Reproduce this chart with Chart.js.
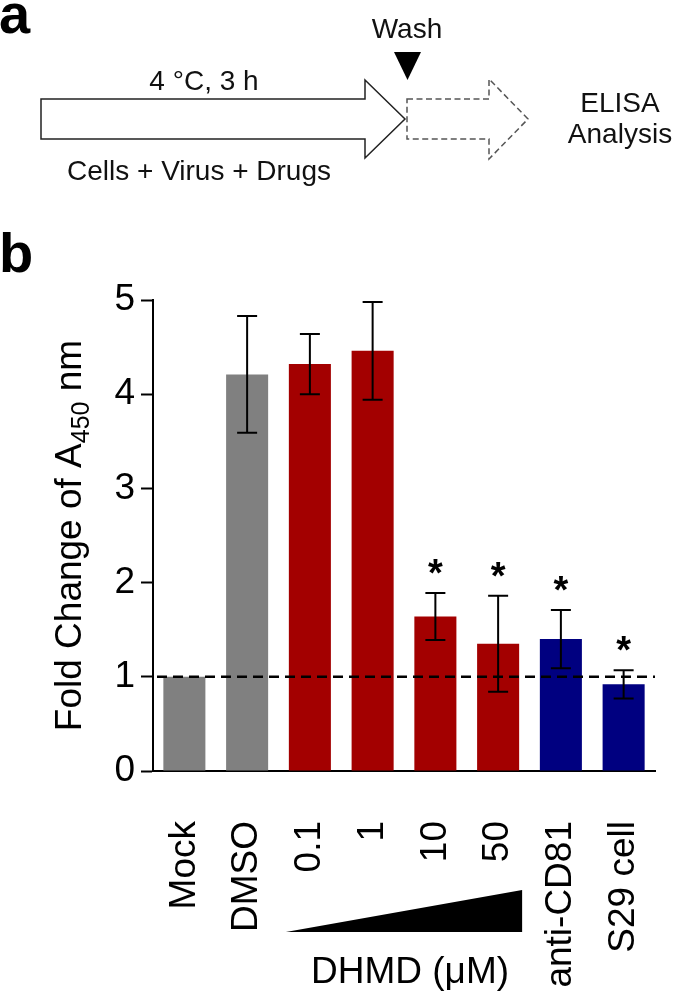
<!DOCTYPE html>
<html>
<head>
<meta charset="utf-8">
<script src="https://cdn.jsdelivr.net/npm/chart.js@4.4.1/dist/chart.umd.min.js"></script>
<style>
  html, body { margin: 0; padding: 0; background: #fff; }
</style>
</head>
<body>
<canvas id="fig" width="675" height="1004"></canvas>
<script>
// values
const categories = ['Mock', 'DMSO', '0.1', '1', '10', '50', 'anti-CD81', 'S29 cell'];
const foldChange = [1.00, 4.21, 4.32, 4.46, 1.64, 1.35, 1.40, 0.92];
const sdError = [0, 0.62, 0.32, 0.52, 0.25, 0.51, 0.31, 0.15];
const significant = [false, false, false, false, true, true, true, true];
const treatment = ['control', 'control', 'DHMD', 'DHMD', 'DHMD', 'DHMD', 'other', 'other'];
const yTicks = [0, 1, 2, 3, 4, 5];
const refLevel = 1;

const groupColor = { control: '#808080', DHMD: '#a30000', other: '#000080' };
const FONT = '"Liberation Sans", Arial, Helvetica, sans-serif';

// panel a: the schematic
const schematic = {
  id: 'schematic',
  afterDraw(chart) {
    const c = chart.ctx;
    c.save();
    c.fillStyle = '#000';
    c.font = 'bold 56px ' + FONT;
    c.textAlign = 'left';
    c.textBaseline = 'alphabetic';
    c.fillText('a', -1, 33);
    c.fillText('b', -1, 272);

    // solid arrow
    c.lineWidth = 1.5;
    c.strokeStyle = '#222';
    c.beginPath();
    c.moveTo(41, 99); c.lineTo(365, 99); c.lineTo(365, 80); c.lineTo(405, 119);
    c.lineTo(365, 158); c.lineTo(365, 139); c.lineTo(41, 139); c.closePath();
    c.stroke();

    // dashed arrow
    c.strokeStyle = '#555';
    c.setLineDash([6, 3.5]);
    c.beginPath();
    c.moveTo(407, 99); c.lineTo(489, 99); c.lineTo(489, 79); c.lineTo(528, 119);
    c.lineTo(489, 159); c.lineTo(489, 139); c.lineTo(407, 139); c.closePath();
    c.stroke();
    c.setLineDash([]);

    // wash marker
    c.fillStyle = '#000';
    c.beginPath();
    c.moveTo(394, 52); c.lineTo(421, 52); c.lineTo(407.5, 80); c.closePath();
    c.fill();

    c.font = '28px ' + FONT;
    c.textAlign = 'center';
    c.fillStyle = '#111';
    c.fillText('4 \u00B0C, 3 h', 204, 90);
    c.fillText('Cells + Virus + Drugs', 199, 180);
    c.fillText('Wash', 407, 38);
    c.fillText('ELISA', 620, 112);
    c.fillText('Analysis', 620, 143);
    c.restore();
  }
};

// error bars, significance stars and the reference line
const errorBars = {
  id: 'errorBars',
  afterDatasetsDraw(chart) {
    const c = chart.ctx;
    const x = chart.scales.x, y = chart.scales.y;
    c.save();
    // dashed line at fold change 1
    c.strokeStyle = '#000';
    c.lineWidth = 2.5;
    c.setLineDash([10, 6]);
    const yr = y.getPixelForValue(refLevel);
    c.beginPath();
    c.moveTo(x.left + 4, yr);
    c.lineTo(x.right, yr);
    c.stroke();
    c.setLineDash([]);

    c.lineWidth = 2;
    foldChange.forEach((v, i) => {
      const px = x.getPixelForValue(i);
      const e = sdError[i];
      if (e > 0) {
        const top = y.getPixelForValue(v + e);
        const bot = y.getPixelForValue(v - e);
        c.beginPath();
        c.moveTo(px, top); c.lineTo(px, bot);
        c.moveTo(px - 10, top); c.lineTo(px + 10, top);
        c.moveTo(px - 10, bot); c.lineTo(px + 10, bot);
        c.stroke();
      }
      if (significant[i]) {
        c.fillStyle = '#000';
        c.font = 'bold 38px ' + FONT;
        c.textAlign = 'center';
        c.textBaseline = 'alphabetic';
        c.fillText('*', px, y.getPixelForValue(v + e) - 7);
      }
    });
    c.restore();
  }
};

// y title with subscript, dose wedge and its caption
const axisDecor = {
  id: 'axisDecor',
  afterDraw(chart) {
    const c = chart.ctx;
    const x = chart.scales.x, y = chart.scales.y;
    c.save();
    c.fillStyle = '#000';

    // y axis title
    const big = '37px ' + FONT, small = '25px ' + FONT;
    const p1 = 'Fold Change of A', p2 = '450', p3 = ' nm';
    c.font = big; const w1 = c.measureText(p1).width, w3 = c.measureText(p3).width;
    c.font = small; const w2 = c.measureText(p2).width;
    const total = w1 + w2 + w3;
    c.translate(81, (y.top + y.bottom) / 2);
    c.rotate(-Math.PI / 2);
    c.textBaseline = 'alphabetic';
    c.textAlign = 'left';
    let sx = -total / 2;
    c.font = big; c.fillText(p1, sx, 0); sx += w1;
    c.font = small; c.fillText(p2, sx, 8); sx += w2;
    c.font = big; c.fillText(p3, sx, 0);
    c.setTransform(1, 0, 0, 1, 0, 0);

    // concentration wedge under the DHMD bars
    const xa = x.getPixelForValue(2) - 24;
    const xb = x.getPixelForValue(5) + 24;
    c.beginPath();
    c.moveTo(xa, 932); c.lineTo(xb, 890); c.lineTo(xb, 932); c.closePath();
    c.fill();

    c.font = '37px ' + FONT;
    c.textAlign = 'center';
    c.fillText('DHMD (\u03BCM)', (xa + xb) / 2 + 6, 983);
    c.restore();
  }
};

new Chart(document.getElementById('fig').getContext('2d'), {
  type: 'bar',
  data: {
    labels: categories,
    datasets: [{
      data: foldChange,
      backgroundColor: treatment.map(t => groupColor[t]),
      borderWidth: 0,
      barPercentage: 0.67,
      categoryPercentage: 1
    }]
  },
  options: {
    responsive: false,
    animation: false,
    devicePixelRatio: 1,
    layout: { padding: { top: 300, right: 20, left: 0, bottom: 0 } },
    scales: {
      x: {
        afterFit(scale) {
          scale.height = 233;
          scale.paddingLeft = 0;
          scale.paddingRight = 0;
        },
        grid: { display: false, drawTicks: false },
        border: { display: true, color: '#000', width: 2 },
        ticks: {
          color: '#000',
          font: { family: FONT, size: 37 },
          minRotation: 90,
          maxRotation: 90,
          autoSkip: false,
          padding: 50
        }
      },
      y: {
        min: 0,
        max: 5,
        afterFit(scale) { scale.width = 153; },
        afterBuildTicks(scale) { scale.ticks = yTicks.map(v => ({ value: v })); },
        grid: { drawOnChartArea: false, drawTicks: true, tickLength: 12, tickWidth: 2, tickColor: '#000' },
        border: { display: true, color: '#000', width: 2 },
        ticks: {
          color: '#000',
          font: { family: FONT, size: 37 },
          padding: 6
        }
      }
    },
    plugins: {
      legend: { display: false },
      tooltip: { enabled: false },
      title: { display: false }
    }
  },
  plugins: [errorBars, axisDecor, schematic]
});
</script>
</body>
</html>
